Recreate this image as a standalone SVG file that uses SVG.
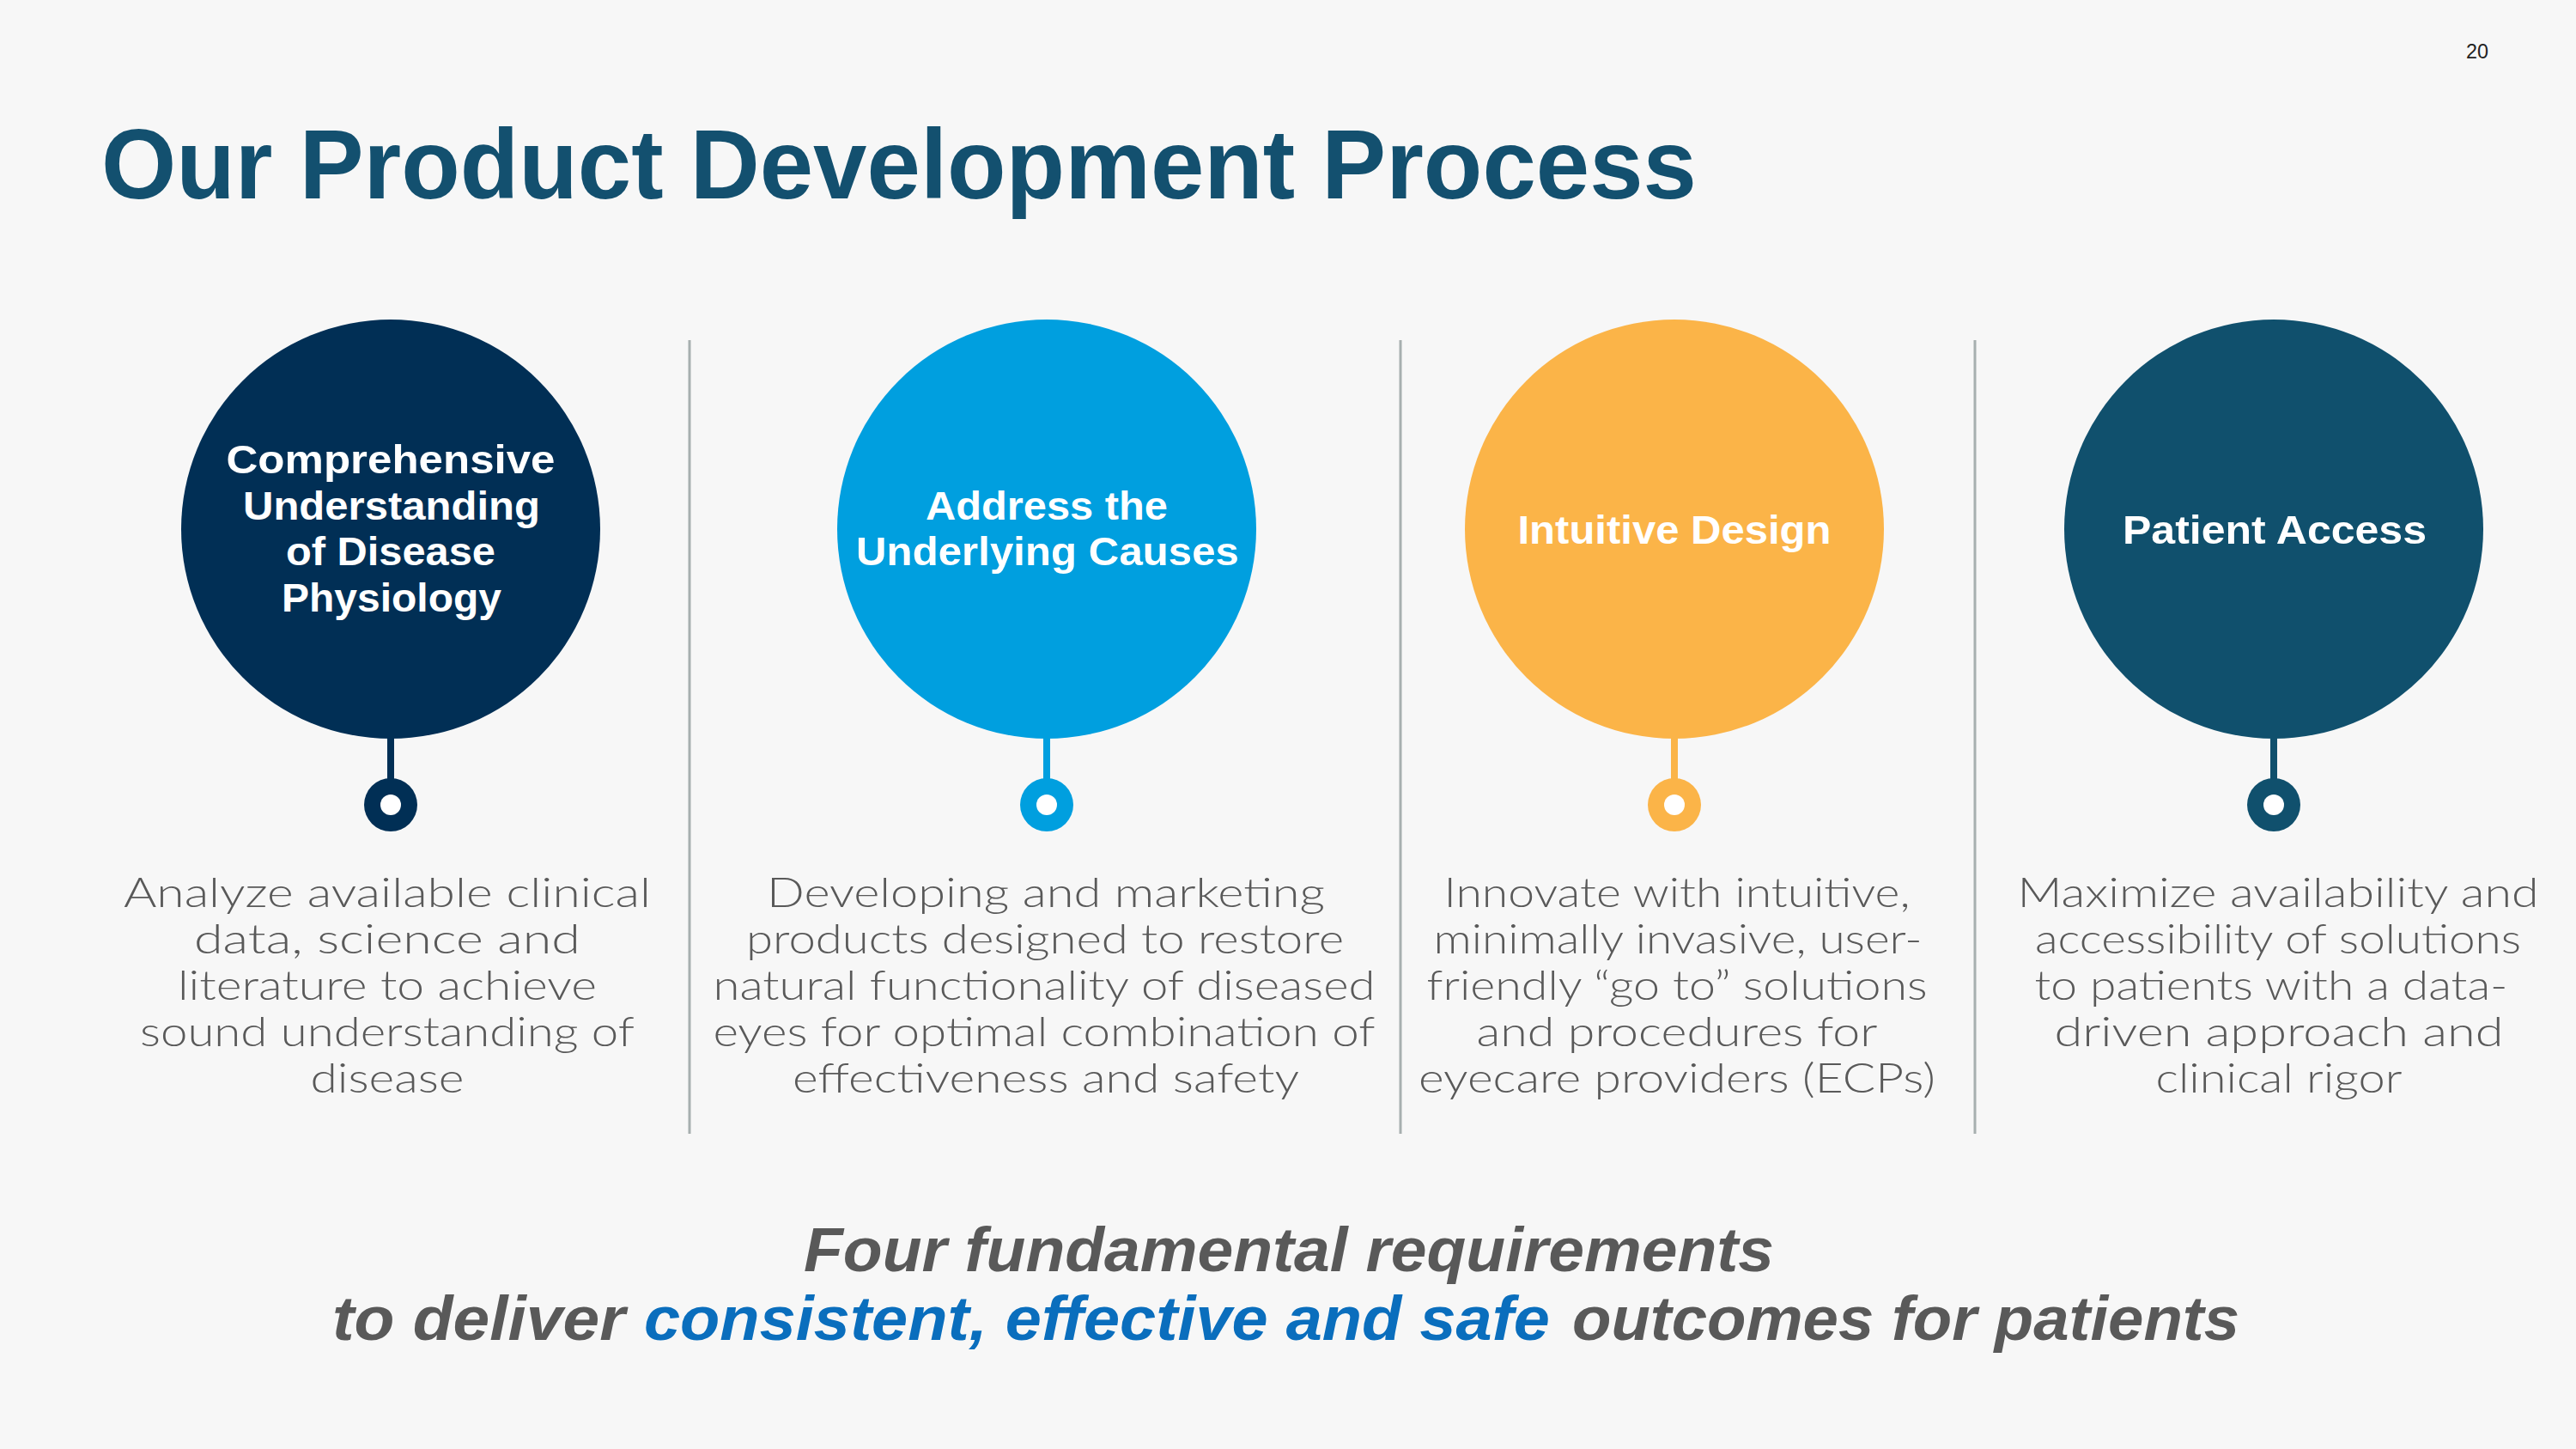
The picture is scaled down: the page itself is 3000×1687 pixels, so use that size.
<svg xmlns="http://www.w3.org/2000/svg" width="3000" height="1687" viewBox="0 0 3000 1687">
<style>
.bg{fill:#f7f7f7}
.title{font-family:"Liberation Sans",Arial,sans-serif;font-weight:bold;font-size:115px;fill:#13506f}
.pg{font-family:"Liberation Sans",Arial,sans-serif;font-size:24px;fill:#222}
.ct{font-family:"Liberation Sans",Arial,sans-serif;font-weight:bold;font-size:47px;fill:#fff;text-anchor:middle}
.desc{font-family:Lato,"Liberation Sans",Arial,sans-serif;font-weight:300;font-size:48px;fill:#595959;text-anchor:middle}
.div{stroke:#a7afaf;stroke-width:3}
.foot{font-family:"Liberation Sans",Arial,sans-serif;font-weight:bold;font-style:italic;font-size:73px;fill:#595959}
.blue{fill:#0a6ebd}
.hole{fill:#fff}
</style>
<rect class="bg" x="0" y="0" width="3000" height="1687"/>
<text class="pg" x="2872" y="68" textLength="26" lengthAdjust="spacingAndGlyphs">20</text>
<text class="title" x="118" y="231" textLength="1858" lengthAdjust="spacingAndGlyphs">Our Product Development Process</text>

<g id="dividers">
<line class="div" x1="803" y1="396" x2="803" y2="1320"/>
<line class="div" x1="1631" y1="396" x2="1631" y2="1320"/>
<line class="div" x1="2300" y1="396" x2="2300" y2="1320"/>
</g>

<g id="node1">
<circle cx="455" cy="616" r="244" fill="#012f55"/>
<rect x="451" y="855" width="8" height="55" fill="#012f55"/>
<circle cx="455" cy="937" r="31" fill="#012f55"/>
<circle class="hole" cx="455" cy="937" r="12"/>
<text class="ct" x="455" y="551" textLength="383" lengthAdjust="spacingAndGlyphs">Comprehensive</text>
<text class="ct" x="456" y="605" textLength="346" lengthAdjust="spacingAndGlyphs">Understanding</text>
<text class="ct" x="455" y="658" textLength="244" lengthAdjust="spacingAndGlyphs">of Disease</text>
<text class="ct" x="456" y="712" textLength="256" lengthAdjust="spacingAndGlyphs">Physiology</text>
<text class="desc" x="451" y="1056" textLength="614" lengthAdjust="spacingAndGlyphs">Analyze available clinical</text>
<text class="desc" x="451" y="1110" textLength="450" lengthAdjust="spacingAndGlyphs">data, science and</text>
<text class="desc" x="451" y="1164" textLength="488" lengthAdjust="spacingAndGlyphs">literature to achieve</text>
<text class="desc" x="451" y="1218" textLength="576" lengthAdjust="spacingAndGlyphs">sound understanding of</text>
<text class="desc" x="451" y="1272" textLength="179" lengthAdjust="spacingAndGlyphs">disease</text>
</g>

<g id="node2">
<circle cx="1219" cy="616" r="244" fill="#009fdf"/>
<rect x="1215" y="855" width="8" height="55" fill="#009fdf"/>
<circle cx="1219" cy="937" r="31" fill="#009fdf"/>
<circle class="hole" cx="1219" cy="937" r="12"/>
<text class="ct" x="1219" y="605" textLength="282" lengthAdjust="spacingAndGlyphs">Address the</text>
<text class="ct" x="1220" y="658" textLength="446" lengthAdjust="spacingAndGlyphs">Underlying Causes</text>
<text class="desc" x="1218" y="1056" textLength="650" lengthAdjust="spacingAndGlyphs">Developing and marketing</text>
<text class="desc" x="1217" y="1110" textLength="696" lengthAdjust="spacingAndGlyphs">products designed to restore</text>
<text class="desc" x="1216" y="1164" textLength="771" lengthAdjust="spacingAndGlyphs">natural functionality of diseased</text>
<text class="desc" x="1216" y="1218" textLength="771" lengthAdjust="spacingAndGlyphs">eyes for optimal combination of</text>
<text class="desc" x="1218" y="1272" textLength="590" lengthAdjust="spacingAndGlyphs">effectiveness and safety</text>
</g>

<g id="node3">
<circle cx="1950" cy="616" r="244" fill="#fbb448"/>
<rect x="1946" y="855" width="8" height="55" fill="#fbb448"/>
<circle cx="1950" cy="937" r="31" fill="#fbb448"/>
<circle class="hole" cx="1950" cy="937" r="12"/>
<text class="ct" x="1950" y="633" textLength="365" lengthAdjust="spacingAndGlyphs">Intuitive Design</text>
<text class="desc" x="1953" y="1056" textLength="543" lengthAdjust="spacingAndGlyphs">Innovate with intuitive,</text>
<text class="desc" x="1954" y="1110" textLength="569" lengthAdjust="spacingAndGlyphs">minimally invasive, user-</text>
<text class="desc" x="1953" y="1164" textLength="583" lengthAdjust="spacingAndGlyphs">friendly “go to” solutions</text>
<text class="desc" x="1953" y="1218" textLength="467" lengthAdjust="spacingAndGlyphs">and procedures for</text>
<text class="desc" x="1953" y="1272" textLength="602" lengthAdjust="spacingAndGlyphs">eyecare providers (ECPs)</text>
</g>

<g id="node4">
<circle cx="2648" cy="616" r="244" fill="#10506d"/>
<rect x="2644" y="855" width="8" height="55" fill="#10506d"/>
<circle cx="2648" cy="937" r="31" fill="#10506d"/>
<circle class="hole" cx="2648" cy="937" r="12"/>
<text class="ct" x="2649" y="633" textLength="354" lengthAdjust="spacingAndGlyphs">Patient Access</text>
<text class="desc" x="2653" y="1056" textLength="607" lengthAdjust="spacingAndGlyphs">Maximize availability and</text>
<text class="desc" x="2653" y="1110" textLength="566" lengthAdjust="spacingAndGlyphs">accessibility of solutions</text>
<text class="desc" x="2645" y="1164" textLength="551" lengthAdjust="spacingAndGlyphs">to patients with a data-</text>
<text class="desc" x="2654" y="1218" textLength="523" lengthAdjust="spacingAndGlyphs">driven approach and</text>
<text class="desc" x="2654" y="1272" textLength="287" lengthAdjust="spacingAndGlyphs">clinical rigor</text>
</g>

<g id="footer">
<text class="foot" x="936" y="1480" textLength="1130" lengthAdjust="spacingAndGlyphs">Four fundamental requirements</text>
<text class="foot" x="387" y="1560" textLength="341" lengthAdjust="spacingAndGlyphs">to deliver</text>
<text class="foot blue" x="750" y="1560" textLength="1055" lengthAdjust="spacingAndGlyphs">consistent, effective and safe</text>
<text class="foot" x="1831" y="1560" textLength="777" lengthAdjust="spacingAndGlyphs">outcomes for patients</text>
</g>
</svg>
